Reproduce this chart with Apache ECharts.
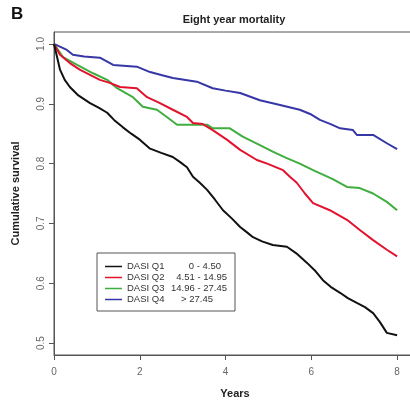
<!DOCTYPE html>
<html lang="en">
<head>
    <meta charset="UTF-8">
    <title>Eight year mortality</title>
    <script src="https://cdn.jsdelivr.net/npm/echarts@6/dist/echarts.min.js"></script>
    <style>
        body { margin: 0; background: #fff; }
        #main { width: 410px; height: 400px; }
    </style>
</head>
<body>
    <div id="main"></div>
    <script type="text/javascript">
        // survival curves (years, cumulative survival)
        var q1Years = [0, 0.05, 0.14, 0.25, 0.37, 0.55, 0.84, 1.05, 1.24, 1.4, 1.6, 1.8, 2.0, 2.24, 2.5, 2.77, 2.95, 3.1, 3.24, 3.4, 3.57, 3.75, 3.94, 4.15, 4.34, 4.5, 4.64, 4.85, 5.1, 5.43, 5.65, 5.9, 6.1, 6.27, 6.45, 6.67, 6.85, 7.06, 7.25, 7.44, 7.6, 7.76, 8.0];
        var q1Surv = [1.0, 0.985, 0.957, 0.94, 0.928, 0.915, 0.901, 0.893, 0.885, 0.873, 0.861, 0.85, 0.84, 0.825, 0.818, 0.811, 0.802, 0.794, 0.778, 0.768, 0.756, 0.74, 0.722, 0.708, 0.694, 0.685, 0.677, 0.67, 0.664, 0.661, 0.65, 0.634, 0.62, 0.605, 0.594, 0.584, 0.575, 0.567, 0.56, 0.55, 0.535, 0.517, 0.513];

        var q2Years = [0, 0.14, 0.37, 0.6, 0.85, 1.07, 1.3, 1.54, 1.93, 2.17, 2.47, 2.77, 3.1, 3.24, 3.47, 3.7, 4.03, 4.34, 4.73, 4.97, 5.34, 5.5, 5.66, 5.85, 6.04, 6.43, 6.83, 7.13, 7.44, 7.76, 8.0];
        var q2Surv = [1.0, 0.982, 0.968, 0.957, 0.948, 0.94, 0.935, 0.928, 0.926, 0.911, 0.901, 0.89, 0.878, 0.868, 0.866, 0.856, 0.84, 0.823, 0.806, 0.8, 0.789, 0.778, 0.768, 0.75, 0.734, 0.722, 0.706, 0.689, 0.672, 0.656, 0.645];

        var q3Years = [0, 0.21, 0.54, 0.91, 1.24, 1.47, 1.84, 2.07, 2.4, 2.63, 2.87, 3.17, 3.57, 3.7, 4.1, 4.4, 4.8, 5.1, 5.4, 5.73, 6.04, 6.5, 6.83, 7.13, 7.44, 7.76, 8.0];
        var q3Surv = [1.0, 0.978, 0.965, 0.951, 0.94, 0.926, 0.911, 0.895, 0.89, 0.878, 0.865, 0.865, 0.865, 0.859, 0.859, 0.845, 0.831, 0.82, 0.81, 0.8, 0.789, 0.774, 0.761, 0.759, 0.75, 0.736, 0.722];

        var q4Years = [0, 0.15, 0.3, 0.44, 0.7, 1.07, 1.38, 1.93, 2.24, 2.5, 2.77, 3.33, 3.7, 4.0, 4.34, 4.8, 5.27, 5.73, 6.0, 6.2, 6.45, 6.67, 6.97, 7.06, 7.44, 7.76, 8.0];
        var q4Surv = [1.0, 0.995, 0.99, 0.982, 0.979, 0.977, 0.965, 0.962, 0.953, 0.948, 0.943, 0.937, 0.926, 0.922, 0.918, 0.906, 0.898, 0.89, 0.882, 0.873, 0.866, 0.859, 0.856, 0.848, 0.848, 0.834, 0.824];

        var groupNames = ['DASI Q1', 'DASI Q2', 'DASI Q3', 'DASI Q4'];
        var groupRanges = ['0 - 4.50', '4.51 - 14.95', '14.96 - 27.45', '> 27.45'];
        var groupColors = ['#111111', '#e3122e', '#3fae3f', '#3636a6'];

        var xTicks = [0, 2, 4, 6, 8];
        var yTicks = [0.5, 0.6, 0.7, 0.8, 0.9, 1.0];

        function pairs(xs, ys) {
            return xs.map(function (x, i) { return [x, ys[i]]; });
        }

        var curves = [pairs(q1Years, q1Surv), pairs(q2Years, q2Surv), pairs(q3Years, q3Surv), pairs(q4Years, q4Surv)];

        var font = '"Liberation Sans", Arial, sans-serif';
        var chart = echarts.init(document.getElementById('main'));

        var option = {
            animation: false,
            textStyle: { fontFamily: font },
            graphic: [
                { type: 'text', left: 11, top: 6, style: { text: 'B', font: 'bold 17px ' + font, fill: '#111' } },
                { type: 'text', x: 234, y: 20, style: { text: 'Eight year mortality', font: 'bold 11px ' + font, fill: '#222', align: 'center', verticalAlign: 'middle' } }
            ],
            // plot box runs past the right edge of the picture
            grid: { left: 54, width: 362, top: 32, height: 323, outerBoundsMode: 'none', show: true, borderColor: '#555', borderWidth: 1 },
            legend: {
                data: groupNames,
                orient: 'vertical',
                left: 97,
                top: 253,
                padding: [8, 8, 6, 8],
                icon: 'rect',
                itemWidth: 17,
                itemHeight: 1.5,
                itemGap: 0,
                borderColor: '#555',
                borderWidth: 1,
                backgroundColor: '#fff',
                formatter: function (name) {
                    var i = groupNames.indexOf(name);
                    return '{n|' + name + '}{r' + i + '|' + groupRanges[i] + '}';
                },
                textStyle: {
                    color: '#333',
                    fontSize: 9.5,
                    lineHeight: 11,
                    rich: {
                        n: { width: 36, fontSize: 9.5, lineHeight: 11, color: '#333' },
                        r0: { width: 58, align: 'right', padding: [0, 6, 0, 0], fontSize: 9.5, lineHeight: 11, color: '#333' },
                        r1: { width: 64, align: 'right', fontSize: 9.5, lineHeight: 11, color: '#333' },
                        r2: { width: 64, align: 'right', fontSize: 9.5, lineHeight: 11, color: '#333' },
                        r3: { width: 50, align: 'right', padding: [0, 14, 0, 0], fontSize: 9.5, lineHeight: 11, color: '#333' }
                    }
                }
            },
            xAxis: {
                type: 'value',
                min: 0,
                max: 8.44,
                name: 'Years',
                nameLocation: 'middle',
                nameGap: 33,
                nameTextStyle: { fontWeight: 'bold', fontSize: 11, color: '#222' },
                splitLine: { show: false },
                axisLine: { show: true, onZero: false, lineStyle: { color: '#555' } },
                axisTick: { show: true, length: 5, customValues: xTicks, lineStyle: { color: '#555' } },
                axisLabel: { customValues: xTicks, margin: 12, fontSize: 10, color: '#666' }
            },
            yAxis: {
                type: 'value',
                min: 0.48,
                max: 1.02,
                name: 'Cumulative survival',
                nameLocation: 'middle',
                nameGap: 33,
                nameTextStyle: { fontWeight: 'bold', fontSize: 11, color: '#222' },
                splitLine: { show: false },
                axisLine: { show: true, onZero: false, lineStyle: { color: '#555' } },
                axisTick: { show: true, length: 5, customValues: yTicks, lineStyle: { color: '#555' } },
                axisLabel: {
                    customValues: yTicks,
                    rotate: 90,
                    margin: 8,
                    fontSize: 10,
                    color: '#666',
                    formatter: function (v) { return v.toFixed(1); }
                }
            },
            series: curves.map(function (d, i) {
                return {
                    name: groupNames[i],
                    type: 'line',
                    symbol: 'none',
                    data: d,
                    z: 2 + (3 - i),
                    lineStyle: { color: groupColors[i], width: 2 },
                    itemStyle: { color: groupColors[i] }
                };
            })
        };

        chart.setOption(option);
    </script>
</body>
</html>
